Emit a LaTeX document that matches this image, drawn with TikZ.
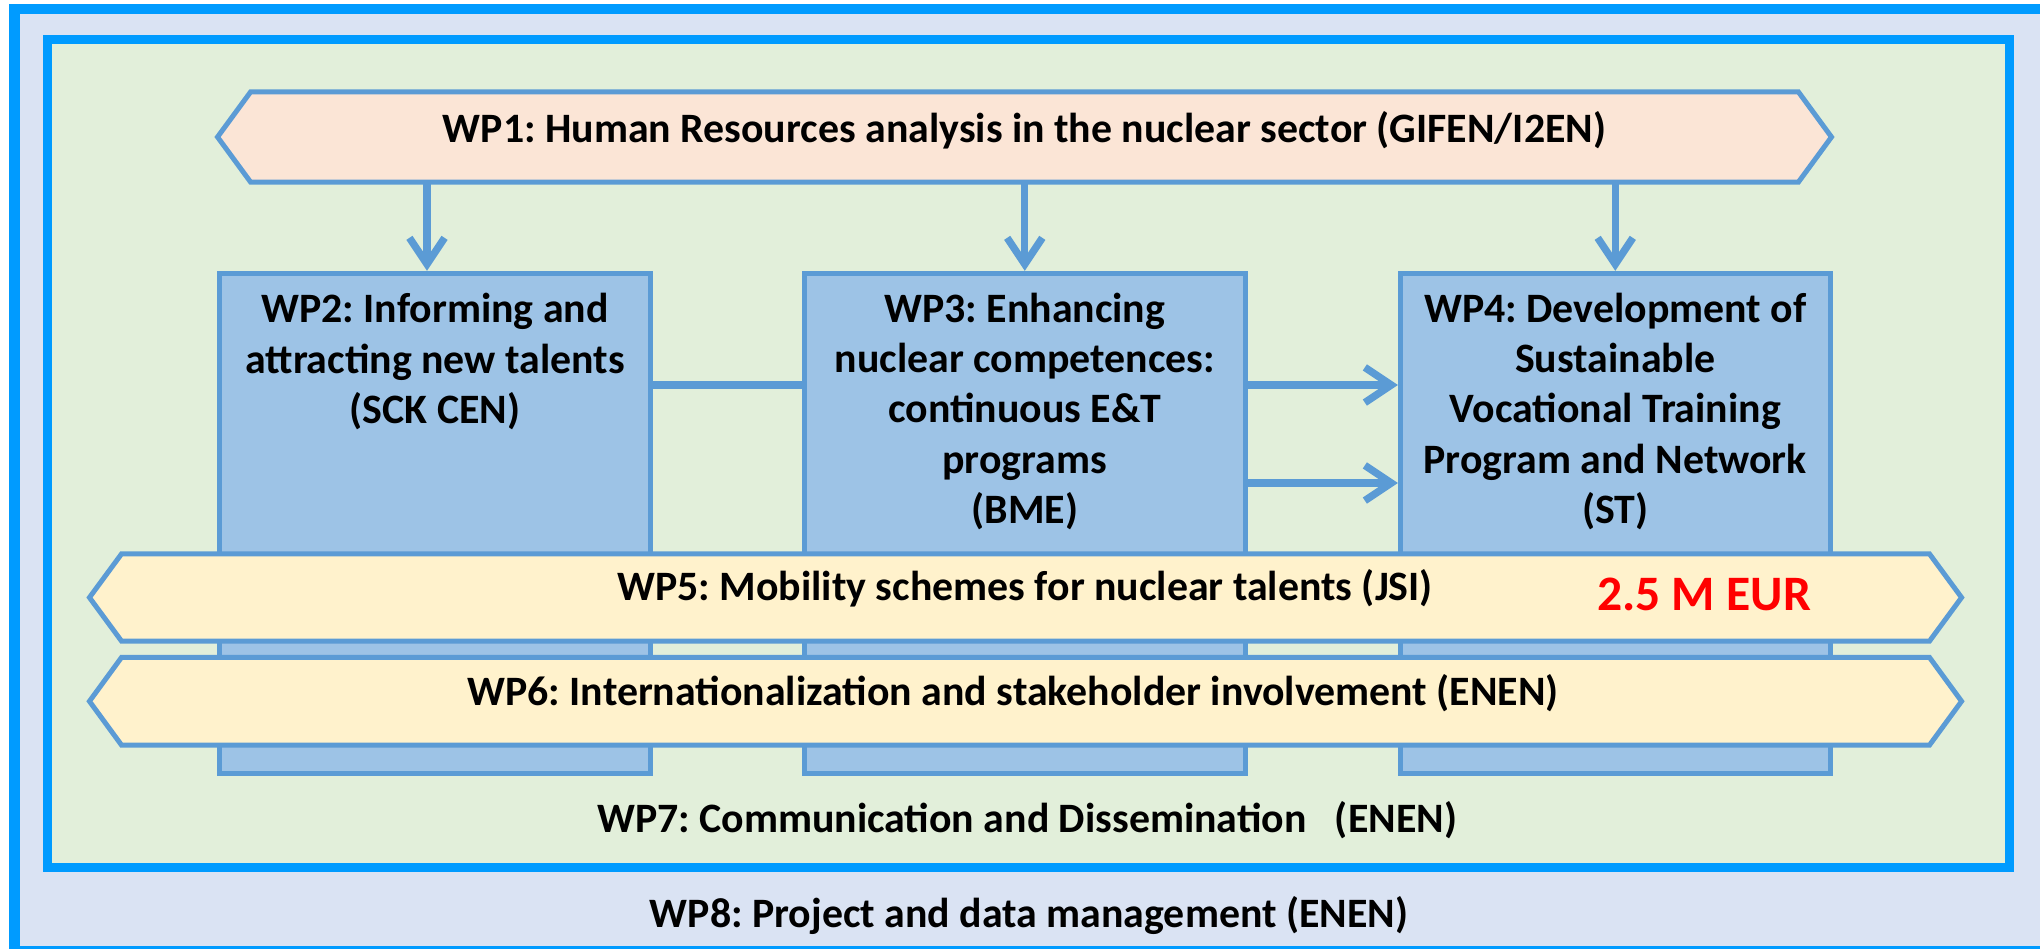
\documentclass[tikz,border=0pt]{standalone}
\usepackage{fontspec}
\setmainfont{Carlito}
\usetikzlibrary{arrows.meta,calc}
\definecolor{framebl}{HTML}{009BFF}
\definecolor{outerfill}{HTML}{DAE3F3}
\definecolor{innerfill}{HTML}{E2EFDA}
\definecolor{edgebl}{HTML}{5B9BD5}
\definecolor{boxbl}{HTML}{9DC3E6}
\definecolor{peach}{HTML}{FBE5D6}
\definecolor{cream}{HTML}{FFF2CC}
\definecolor{eurred}{HTML}{FF0000}
\frenchspacing
\begin{document}
\begin{tikzpicture}[x=0.01cm,y=-0.01cm,
  lbl/.style={font=\bfseries\fontsize{11.9}{14.22}\selectfont, text=black, inner sep=0pt, outer sep=0pt, align=center},
  hexbox/.style={draw=none, fill=none, inner sep=0pt, outer sep=0pt},
  hexs/.style={draw=edgebl, line width=1.42pt, line join=miter, fill=#1},
  wpbox/.style={draw=edgebl, fill=boxbl, line width=1.42pt, inner sep=0pt},
  conn/.style={draw=edgebl, line width=2.1pt},
  arr/.style={conn, -{Straight Barb[length=7.5pt,width=10pt]}},
]
\useasboundingbox (0,0) rectangle (2040,948);
\clip (0,0) rectangle (2040,948);
% outer frame (WP8)
\draw[draw=framebl, fill=outerfill, line width=2.85pt] (14.5,9) rectangle (2080,951);
% inner frame (WP7)
\draw[draw=framebl, fill=innerfill, line width=2.56pt] (47.5,39.5) rectangle (2009,867);

% WP1
\node[hexbox, minimum width=16.13cm, minimum height=0.90cm] (wp1) at (1024.5,137) {};
\draw[hexs=peach] (wp1.west) -- ([xshift=0.33cm]wp1.north west) -- ([xshift=-0.33cm]wp1.north east)
  -- (wp1.east) -- ([xshift=-0.33cm]wp1.south east) -- ([xshift=0.33cm]wp1.south west) -- cycle;
\node[lbl, anchor=base] (wp1t) at ($(wp1.center)+(0,5)$) {WP1: Human Resources analysis in the nuclear sector (GIFEN/I2EN)};

% boxes
\node[wpbox, minimum width=4.31cm, minimum height=4.995cm] (wp2) at (435,523.25) {};
\node[wpbox, minimum width=4.405cm, minimum height=4.995cm] (wp3) at (1024.75,523.25) {};
\node[wpbox, minimum width=4.295cm, minimum height=4.995cm] (wp4) at (1615.25,523.25) {};

% (base anchor = baseline of the last line)
\node[lbl, anchor=base] (wp2t) at (435,423) {WP2: Informing and\\attracting new talents\\(SCK CEN)};
\node[lbl, anchor=base] (wp3t) at (1024.75,523) {WP3: Enhancing\\nuclear competences:\\continuous E\&T\\programs\\(BME)};
\node[lbl, anchor=base] (wp4t) at (1615.25,523) {WP4: Development of\\Sustainable\\Vocational Training\\Program and Network\\(ST)};

% connectors
\draw[arr] ([xshift=-0.08cm]wp2.north |- wp1.south) -- ([xshift=-0.08cm]wp2.north);
\draw[arr] (wp3.north |- wp1.south) -- (wp3.north);
\draw[arr] (wp4.north |- wp1.south) -- (wp4.north);
\coordinate (ya) at (0,385);
\coordinate (yb) at (0,483);
\draw[conn] (wp2.east |- ya) -- (wp3.west |- ya);
\draw[arr] (wp3.east |- ya) -- (wp4.west |- ya);
\draw[arr] (wp3.east |- yb) -- (wp4.west |- yb);

% WP5
\node[hexbox, minimum width=18.71cm, minimum height=0.87cm] (wp5) at (1025.5,597.5) {};
\draw[hexs=cream] (wp5.west) -- ([xshift=0.32cm]wp5.north west) -- ([xshift=-0.32cm]wp5.north east)
  -- (wp5.east) -- ([xshift=-0.32cm]wp5.south east) -- ([xshift=0.32cm]wp5.south west) -- cycle;
\node[lbl, anchor=base] (wp5t) at (1025,600) {WP5: Mobility schemes for nuclear talents (JSI)};
\node[lbl, anchor=base, text=eurred, font=\bfseries\fontsize{14.1}{16}\selectfont] (eur) at (1704,610) {2.5 M EUR};

% WP6
\node[hexbox, minimum width=18.71cm, minimum height=0.875cm] (wp6) at (1025.5,701.25) {};
\draw[hexs=cream] (wp6.west) -- ([xshift=0.32cm]wp6.north west) -- ([xshift=-0.32cm]wp6.north east)
  -- (wp6.east) -- ([xshift=-0.32cm]wp6.south east) -- ([xshift=0.32cm]wp6.south west) -- cycle;
\node[lbl, anchor=base] (wp6t) at (1013,705) {WP6: Internationalization and stakeholder involvement (ENEN)};

% WP7, WP8
\node[lbl, anchor=base] (wp7t) at (1027,832) {WP7: Communication and Dissemination\ \ \ (ENEN)};
\node[lbl, anchor=base] (wp8t) at (1029,927) {WP8: Project and data management (ENEN)};
\end{tikzpicture}
\end{document}
